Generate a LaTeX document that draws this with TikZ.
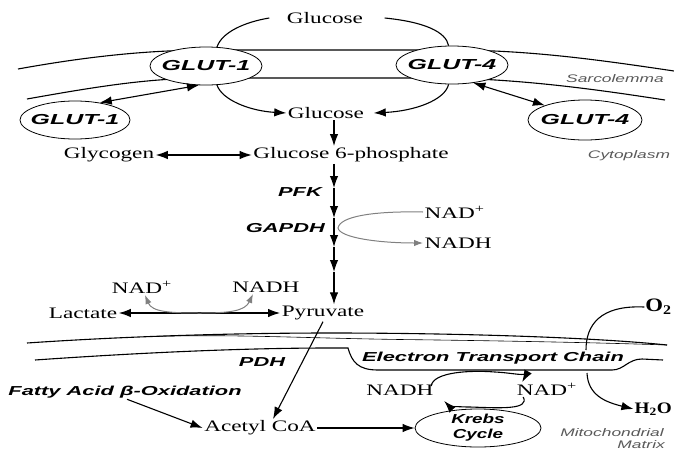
\documentclass[tikz,border=0pt]{standalone}
\usepackage{fontspec}
\setmainfont{Liberation Serif}
\setsansfont{Liberation Sans}
\usetikzlibrary{shapes.geometric,arrows.meta}
\newcommand\txS[1]{\scalebox{1.45}[1]{#1}}
\newcommand\txL[1]{\scalebox{1.68}[1]{#1}}
\newcommand\txG[1]{\scalebox{1.72}[1]{#1}}
\newcommand\txN[1]{\scalebox{1.58}[1]{#1}}
\newcommand\txO[1]{\scalebox{1.2}[1]{#1}}
\newcommand\txK[1]{\scalebox{1.45}[1]{#1}}
\tikzset{
  ser/.style={font=\fontsize{16}{18}\selectfont, inner sep=1.5pt},
  lab/.style={font=\fontsize{13}{15}\selectfont\sffamily\bfseries\itshape, inner sep=1pt},
  gl/.style={font=\fontsize{14.5}{16}\selectfont\sffamily\bfseries\itshape, inner sep=0pt},
  krtxt/.style={font=\fontsize{13}{15}\selectfont\sffamily\bfseries\itshape, align=center, inner sep=0pt},
  note/.style={font=\fontsize{11}{13}\selectfont\sffamily\itshape, text=gray!70!black, inner sep=1pt},
  bigo/.style={font=\fontsize{19}{21}\selectfont\bfseries, inner sep=1pt},
  oval/.style={ellipse, draw, line width=0.8pt, fill=white, inner sep=0pt, minimum width=112pt, minimum height=38pt},
  memb/.style={line width=1.1pt},
  thinmemb/.style={line width=0.6pt},
  arr/.style={line width=1.1pt, -{Latex[length=12pt,width=8.5pt]}},
  darr/.style={line width=1.1pt, {Latex[length=12pt,width=8.5pt]}-{Latex[length=12pt,width=8.5pt]}},
  garr/.style={gray, line width=1pt, -{Latex[length=9pt,width=6.5pt]}},
  gdarr/.style={gray, line width=1pt, {Latex[length=9pt,width=6.5pt]}-{Latex[length=9pt,width=6.5pt]}},
}
\begin{document}
\begin{tikzpicture}[x=1pt,y=-1pt]
\useasboundingbox (0,0) rectangle (674,450);
\clip (0,0) rectangle (674,450);

% sarcolemma
\draw[memb] (18,69) .. controls (90,56) and (150,50) .. (210,50) -- (450,50) .. controls (530,50) and (600,60) .. (674,71);
\draw[memb] (27,99) .. controls (100,86) and (150,78) .. (210,78) -- (450,78) .. controls (530,80) and (600,90) .. (665,100);

% mitochondrial membranes
\draw[memb] (27,343) .. controls (130,336) and (240,333) .. (330,333) .. controls (450,333) and (590,337) .. (667,345);
\draw[thinmemb] (152,336.5) .. controls (230,334) and (300,338) .. (400,339.5) .. controls (520,341) and (610,343) .. (667,345);
\draw[memb] (35,360) .. controls (150,352) and (250,348) .. (330,348) -- (348,348) .. controls (352,362) and (358,370) .. (378,370) -- (612,370) .. controls (624,370) and (628,359) .. (642,359) -- (663,360);

% transporter ovals
\node[oval] (g1m) at (206,66) {};
\node[oval] (g4m) at (452,65) {};
\node[oval, minimum width=110pt] (g1c) at (75,120) {};
\node[oval, minimum width=114pt, minimum height=40pt] (g4c) at (585,120) {};
\node[gl] at (g1m) {\txG{GLUT-1}};
\node[gl] at (g4m) {\txG{GLUT-4}};
\node[gl] at (g1c) {\txG{GLUT-1}};
\node[gl] at (g4c) {\txG{GLUT-4}};

% texts
\node[ser] (gtop) at (325,18) {\txS{Glucose}};
\node[ser] (gmid) at (326,113) {\txS{Glucose}};
\node[ser] (glyc) at (109,155) {\txS{Glycogen}};
\node[ser] (g6p) at (351,155) {\txS{Glucose 6-phosphate}};
\node[lab, anchor=east] (pfk) at (323,192) {\txL{PFK}};
\node[lab, anchor=east] (gapdh) at (326,228) {\txL{GAPDH}};
\node[ser, anchor=west] (nadg) at (423,212) {\txS{NAD\textsuperscript{+}}};
\node[ser, anchor=west] (nadhg) at (423,243) {\txS{NADH}};
\node[ser] (lac) at (83,313) {\txS{Lactate}};
\node[ser] (pyr) at (323,313) {\txS{Pyruvate}};
\node[ser] (nadl) at (142,287) {\txS{NAD\textsuperscript{+}}};
\node[ser] (nadhl) at (266,287) {\txS{NADH}};
\node[lab] (pdh) at (262,362) {\txL{PDH}};
\node[lab] (fatty) at (125,392) {\txL{Fatty Acid β-Oxidation}};
\node[ser] (acoa) at (260,428) {\txS{Acetyl CoA}};
\node[oval, minimum width=126pt, minimum height=38pt] (krebs) at (478,428) {};
\node[krtxt] at (krebs) {\txK{Krebs}\\\txK{Cycle}};
\node[ser] (nadhk) at (400,390) {\txS{NADH}};
\node[ser] (nadk) at (547,389) {\txS{NAD\textsuperscript{+}}};
\node[lab] (etc) at (493,358) {\txL{Electron Transport Chain}};
\node[bigo, anchor=east] (o2) at (673,307) {\txO{O\textsubscript{2}}};
\node[bigo, anchor=east, font=\fontsize{16}{18}\selectfont\bfseries] (h2o) at (673,409) {\txO{H\textsubscript{2}O}};
\node[note] (sarc) at (615,79) {\txN{Sarcolemma}};
\node[note] (cyto) at (629,156) {\txN{Cytoplasm}};
\node[note] (mito) at (612,433) {\txN{Mitochondrial}};
\node[note, anchor=east] (matr) at (666,445) {\txN{Matrix}};

% glucose transport arcs
\draw[memb] (g1m.60) .. controls (222,32) and (245,22) .. ([xshift=-16pt]gtop.west);
\draw[memb] (g4m.100) .. controls (446,32) and (425,22) .. ([xshift=20pt]gtop.east);
\draw[arr] (g1m.-60) .. controls (222,100) and (250,111) .. (gmid.west);
\draw[arr] (g4m.-100) .. controls (445,100) and (415,111) .. ([xshift=8pt]gmid.east);
\draw[darr] (g1m.250) -- (g1c.35);
\draw[darr] (g4m.-40) -- (g4c.160);

% glycolysis chain
\coordinate (cx) at (334,0);
\coordinate (c1) at (334,188);
\coordinate (c2) at (334,218);
\coordinate (c3) at (334,247);
\coordinate (c4) at (334,272);
\draw[arr] (gmid.south -| cx) -- (g6p.north -| cx);
\draw[darr] (glyc) -- (g6p);
\draw[arr] (g6p.south -| cx) -- (c1);
\draw[arr] (c1) -- (c2);
\draw[arr] (c2) -- (c3);
\draw[arr] (c3) -- (c4);
\draw[arr] (c4) -- (pyr.north -| cx);

% GAPDH NAD
\draw[garr] (nadg.west) .. controls (375,211) and (340,216) .. (338,228) .. controls (340,238) and (380,243) .. (nadhg.west);

% lactate
\draw[darr] (lac) -- (pyr);
\draw[gdarr] ([xshift=3pt]nadl.south) .. controls (152,312) and (170,313) .. (200,313) .. controls (230,313) and (245,311) .. ([xshift=-13pt]nadhl.south);

% mitochondria
\draw[arr] (pyr.south) -- ([xshift=13pt]acoa.north);
\draw[arr] ([xshift=2pt]fatty.south) -- (acoa.west);
\draw[arr] (acoa.east) -- (krebs.west);
\draw[arr] ([xshift=-4pt,yshift=-3pt]nadhk.north east) .. controls (433,372) and (470,370) .. (495,372) .. controls (515,373) and (525,377) .. ([xshift=7pt,yshift=-1pt]nadk.north west);
\draw[arr] ([xshift=8pt]nadk.south west) .. controls (530,410) and (500,408) .. (470,407) .. controls (455,407) and (448,405) .. ([xshift=9pt,yshift=-4pt]nadhk.south east);

% oxygen
\coordinate (o2a) at (586,350);
\coordinate (o2b) at (587,373);
\draw[memb] (o2.west) .. controls (600,305) and (586,325) .. (o2a);
\draw[arr] (o2b) .. controls (588,395) and (605,402) .. (h2o.west);
\end{tikzpicture}
\end{document}
